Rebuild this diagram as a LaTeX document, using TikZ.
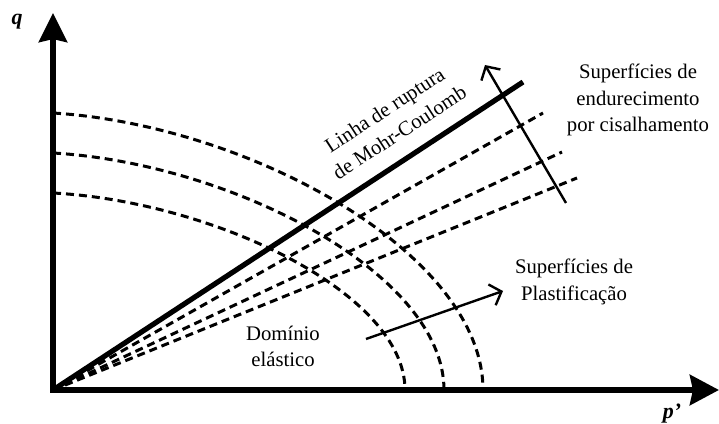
\documentclass[tikz,border=0pt]{standalone}
\usepackage{fontspec}
\setmainfont{Liberation Serif}
\usetikzlibrary{arrows.meta,positioning,calc}
\tikzset{
  axis/.style={line width=3bp, line join=miter,
               {Stealth[length=14.5bp,width=14bp,inset=1.5bp]}-{Stealth[length=14.5bp,width=15bp,inset=1.5bp]}},
  mcline/.style={line width=2.6bp},
  yieldcurve/.style={line width=1.5bp, dash pattern=on 4bp off 2.5bp},
  hardline/.style={line width=1.5bp, dash pattern=on 4bp off 2.5bp},
  trend/.style={line width=1.2bp, -{Straight Barb[length=5bp,width=11bp]}},
  lbl/.style={font=\fontsize{10.4}{13.5}\selectfont, align=center, inner sep=0pt},
  axlbl/.style={font=\fontsize{11}{13}\selectfont\bfseries\itshape, inner sep=0pt},
}

\begin{document}
\begin{tikzpicture}[x=0.5bp, y=-0.5bp]
\useasboundingbox (0,0) rectangle (719,424);
\coordinate (O) at (53,390);
\coordinate (qtip) at (53,13);
\coordinate (ptip) at (719,390);
\coordinate (mc) at (523,82);
\coordinate (h1) at (543,113);
\coordinate (h2) at (562,152);
\coordinate (h3) at (577,178);
\coordinate (hs) at (566,203);
\coordinate (he) at (485,65);
\coordinate (ps) at (366,339);
\coordinate (pe) at (503,291);
\foreach \a/\b in {430/277, 391/237, 352/197} {
  \draw[yieldcurve] ($(O)+(0,-\b)$) .. controls ($(O)+(0.456*\a,-0.956*\b)$) and ($(O)+(\a,-0.494*\b)$) .. ($(O)+(\a,0)$);
}
\foreach \h in {h1,h2,h3} {
  \draw[hardline] (O) -- (\h);
}
\draw[mcline] (O) -- (mc);
\draw[trend] (hs) -- (he);
\draw[trend] (ps) -- (pe);
\draw[axis] (qtip) -- (O) -- (ptip);
\node[axlbl] (qlbl) at (17,22) {q};
\node[axlbl] (plbl) at (672,414) {p’};
\node[lbl, rotate=33] (mclbl) at (392,121) {Linha de ruptura\\de Mohr-Coulomb};
\node[lbl] (hardlbl) at (638,100) {Superfícies de\\endurecimento\\por cisalhamento};
\node[lbl] (plastlbl) at (574,282) {Superfícies de\\Plastificação};
\node[lbl, font=\fontsize{10.4}{13}\selectfont] (elastlbl) at (283,346) {Domínio\\elástico};
\end{tikzpicture}
\end{document}
